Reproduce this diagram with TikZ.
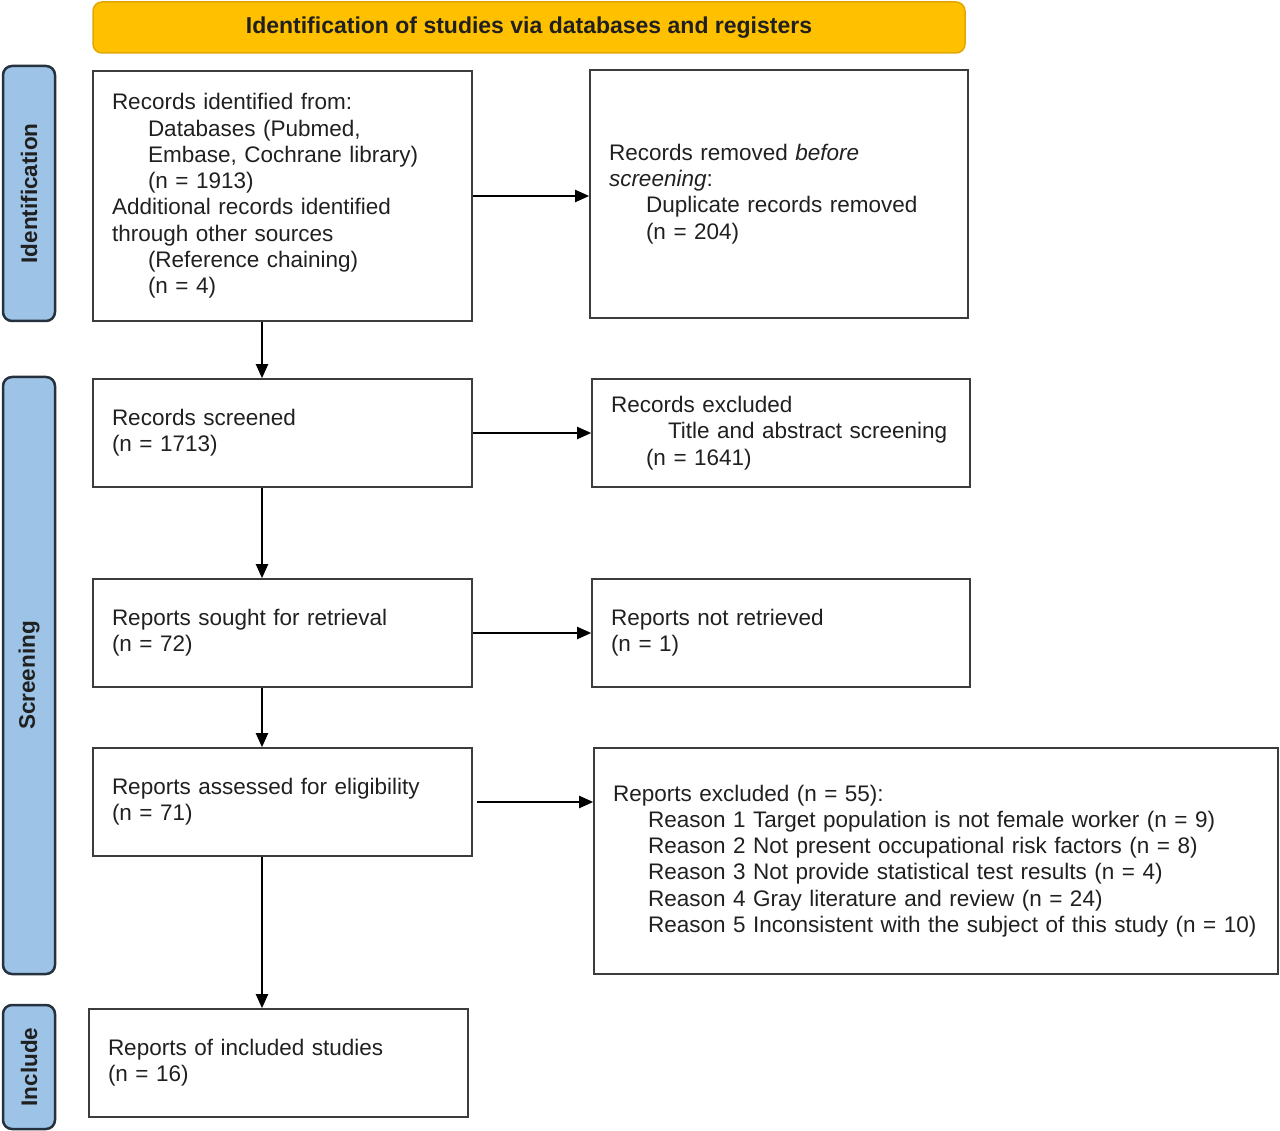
\documentclass[tikz,border=0pt]{standalone}
\usepackage{fontspec}
\setmainfont{Liberation Sans}
\usetikzlibrary{arrows.meta,calc}
\definecolor{hdrfill}{HTML}{FFC000}
\definecolor{hdrdraw}{HTML}{E3A600}
\definecolor{sidefill}{HTML}{9DC3E6}
\definecolor{sidedraw}{HTML}{25313F}
\definecolor{boxdraw}{HTML}{3C3C3C}
\definecolor{txt}{HTML}{202020}
\begin{document}
\begin{tikzpicture}[x=1pt,y=-1pt,
  every node/.style={font=\fontsize{22.5}{26.3}\selectfont, text=txt},
  flowbox/.style n args={2}{draw=boxdraw, line width=1.6pt, rectangle, align=left,
     inner xsep=19pt, inner ysep=0pt, text width=#1pt-38pt, minimum height=#2pt},
  sidebox/.style={draw=sidedraw, fill=sidefill, line width=2.5pt, rounded corners=9pt,
     minimum height=52pt, font=\fontsize{22.5}{26.3}\selectfont\bfseries, rotate=90, inner sep=0pt},
  arr/.style={draw=black, line width=2pt, -{Triangle[length=14pt,width=12pt]}}
]
\useasboundingbox (0,0) rectangle (1280,1131);

% header
\node[draw=hdrdraw, fill=hdrfill, line width=1.5pt, rounded corners=9pt,
      minimum width=872pt, minimum height=51pt, inner sep=0pt,
      font=\fontsize{23}{26.3}\selectfont\bfseries] (hdr) at (529,27.5)
      {Identification of studies via databases and registers};

% side labels
\node[sidebox, minimum width=255pt] (sid) at (29,193.5) {Identification};
\node[sidebox, minimum width=597pt] (ssc) at (29,675.5) {Screening};
\node[sidebox, minimum width=124pt] (sin) at (29,1067) {Include};

% boxes
\node[flowbox={379}{250}] (A) at (282.5,196) {Records identified from:\\
  \hspace*{36pt}Databases (Pubmed,\\
  \hspace*{36pt}Embase, Cochrane library)\\
  \hspace*{36pt}(n = 1913)\\
  Additional records identified\\
  through other sources\\
  \hspace*{36pt}(Reference chaining)\\
  \hspace*{36pt}(n = 4)};

\node[flowbox={378}{248}] (B) at (779,194) {Records removed \textit{before}\\
  \textit{screening}:\\
  \hspace*{37pt}Duplicate records removed\\
  \hspace*{37pt}(n = 204)};

\node[flowbox={379}{108}] (C) at (282.5,433) {Records screened\\(n = 1713)};

\node[flowbox={378}{108}] (D) at (781,433) {Records excluded\\
  \hspace*{57pt}Title and abstract screening\\
  \hspace*{35pt}(n = 1641)};

\node[flowbox={379}{108}] (E) at (282.5,633) {Reports sought for retrieval\\(n = 72)};

\node[flowbox={378}{108}] (F) at (781,633) {Reports not retrieved\\(n = 1)};

\node[flowbox={379}{108}] (G) at (282.5,802) {Reports assessed for eligibility\\(n = 71)};

\node[flowbox={684}{226}] (H) at (936,861) {Reports excluded (n = 55):\\
  \hspace*{35pt}Reason 1 Target population is not female worker (n = 9)\\
  \hspace*{35pt}Reason 2 Not present occupational risk factors (n = 8)\\
  \hspace*{35pt}Reason 3 Not provide statistical test results (n = 4)\\
  \hspace*{35pt}Reason 4 Gray literature and review (n = 24)\\
  \hspace*{35pt}Reason 5 Inconsistent with the subject of this study (n = 10)};

\node[flowbox={379}{108}] (I) at (278.5,1063) {Reports of included studies\\(n = 16)};

% connectors
\coordinate (ax) at (262,0);
\draw[arr] (A.east) -- (A.east -| B.west);
\draw[arr] (C.east) -- (C.east -| D.west);
\draw[arr] (E.east) -- (E.east -| F.west);
\draw[arr] ([xshift=4pt]G.east) -- (G.east -| H.west);
\draw[arr] (A.south -| ax) -- (C.north -| ax);
\draw[arr] (C.south -| ax) -- (E.north -| ax);
\draw[arr] (E.south -| ax) -- (G.north -| ax);
\draw[arr] (G.south -| ax) -- (I.north -| ax);
\end{tikzpicture}
\end{document}
